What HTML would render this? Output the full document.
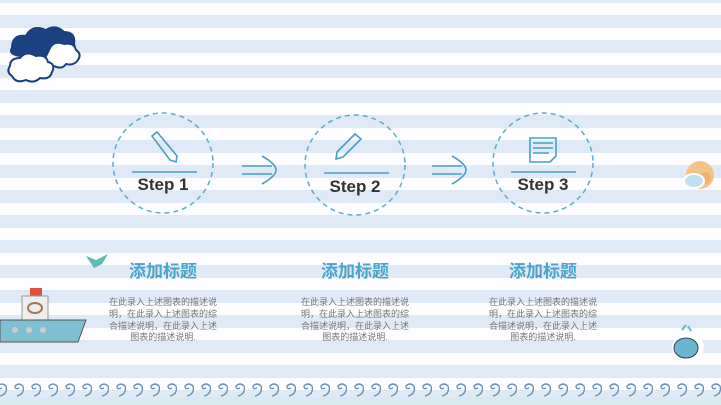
<!DOCTYPE html><html><head><meta charset="utf-8"><style>
body{margin:0}
#p{position:relative;width:721px;height:405px;overflow:hidden;background:repeating-linear-gradient(180deg,#dfeaf6 0 3px,#fdfcfe 3px 15px,#dfeaf6 15px 25px);font-family:"Liberation Sans","Noto Sans CJK SC",sans-serif}
.st{position:absolute;width:120px;text-align:center;font-weight:bold;font-size:17px;color:#333}
.tt{position:absolute;width:140px;text-align:center;font-weight:bold;font-size:17px;color:#4aa3c8}
.ds{position:absolute;width:112px;text-align:center;font-size:9px;line-height:11.8px;color:#777}
</style></head><body><div id="p">
<svg width="721" height="405" style="position:absolute;left:0;top:0">
<g fill="none" stroke="#5aaccf" stroke-width="1.5" stroke-dasharray="5,4">
<circle cx="163" cy="163" r="50"/><circle cx="355" cy="165" r="50"/><circle cx="543" cy="163" r="50"/></g>
<g stroke="#4a9ec6" stroke-width="1.6" fill="none">
<line x1="132" y1="172" x2="197" y2="172"/><line x1="324" y1="173" x2="389" y2="173"/><line x1="511" y1="172" x2="576" y2="172"/>
<path d="M242 166h30M242 174h30M262 156q14 8 14 14q0 6-14 14"/>
<path d="M432 166h30M432 174h30M452 156q14 8 14 14q0 6-14 14"/>
<path d="M152 136l5-4 20 24-1 6-6-2z"/>
<path d="M337 152l18-18 6 5-18 18-7 2z"/>
<path d="M530 138h26v18l-6 6h-20z M533 143h20M533 148h20M533 153h16"/>
</g>
<g stroke="#1b3f7e" stroke-width="2">
<path d="M12 48q0-14 14-12q6-12 20-6q10-6 18 2q12 0 10 12q4 10-8 12h-46q-12-2-8-8z" fill="#1d4282"/>
<path d="M50 48q4-8 14-4q10-2 12 6q6 4 2 10q-4 6-12 4q-4 6-12 2q-8 2-10-6z" fill="#fff"/>
<path d="M10 66q0-8 10-8q6-8 16-2q10-2 12 6q8 2 4 10q-2 8-12 6q-6 6-14 2q-10 4-14-4q-6-4-2-10z" fill="#fff"/>
</g>
<path d="M86 256l10 4 12-6-6 10-8 4z" fill="#5bbcb3"/>
<g>
<rect x="30" y="288" width="12" height="8" fill="#e05040"/><rect x="22" y="296" width="26" height="24" fill="#eee" stroke="#999"/>
<ellipse cx="35" cy="308" rx="7" ry="5" fill="none" stroke="#a0785a" stroke-width="2"/>
<path d="M0 320h86l-8 22h-78z" fill="#7fbfd2" stroke="#555"/>
<circle cx="15" cy="330" r="3" fill="#ccc"/><circle cx="29" cy="330" r="3" fill="#ccc"/><circle cx="43" cy="330" r="3" fill="#ccc"/>
</g>
<g><circle cx="700" cy="175" r="14" fill="#f5c38a"/><circle cx="705" cy="178" r="6" fill="#f2b070"/>
<ellipse cx="694" cy="181" rx="10" ry="7" fill="#bfe0ee" stroke="#fff" stroke-width="2"/></g>
<g><ellipse cx="688" cy="347" rx="16" ry="13" fill="#fff"/><ellipse cx="686" cy="348" rx="12" ry="10" fill="#6ab5cf" stroke="#345" stroke-width="1"/>
<path d="M682 330l4-5M688 326l3 5" stroke="#6ab5cf" stroke-width="2"/></g>
<rect x="0" y="397" width="721" height="8" fill="#d7ebee"/>
<g fill="none" stroke="#6a8fb5" stroke-width="1.3">
<path d="M0 396 q8-2 6-10 q-4-4-8 0 q0 4 4 2 M17 396 q8-2 6-10 q-4-4-8 0 q0 4 4 2 M34 396 q8-2 6-10 q-4-4-8 0 q0 4 4 2 M51 396 q8-2 6-10 q-4-4-8 0 q0 4 4 2 M68 396 q8-2 6-10 q-4-4-8 0 q0 4 4 2 M85 396 q8-2 6-10 q-4-4-8 0 q0 4 4 2 M102 396 q8-2 6-10 q-4-4-8 0 q0 4 4 2 M119 396 q8-2 6-10 q-4-4-8 0 q0 4 4 2 M136 396 q8-2 6-10 q-4-4-8 0 q0 4 4 2 M153 396 q8-2 6-10 q-4-4-8 0 q0 4 4 2 M170 396 q8-2 6-10 q-4-4-8 0 q0 4 4 2 M187 396 q8-2 6-10 q-4-4-8 0 q0 4 4 2 M204 396 q8-2 6-10 q-4-4-8 0 q0 4 4 2 M221 396 q8-2 6-10 q-4-4-8 0 q0 4 4 2 M238 396 q8-2 6-10 q-4-4-8 0 q0 4 4 2 M255 396 q8-2 6-10 q-4-4-8 0 q0 4 4 2 M272 396 q8-2 6-10 q-4-4-8 0 q0 4 4 2 M289 396 q8-2 6-10 q-4-4-8 0 q0 4 4 2 M306 396 q8-2 6-10 q-4-4-8 0 q0 4 4 2 M323 396 q8-2 6-10 q-4-4-8 0 q0 4 4 2 M340 396 q8-2 6-10 q-4-4-8 0 q0 4 4 2 M357 396 q8-2 6-10 q-4-4-8 0 q0 4 4 2 M374 396 q8-2 6-10 q-4-4-8 0 q0 4 4 2 M391 396 q8-2 6-10 q-4-4-8 0 q0 4 4 2 M408 396 q8-2 6-10 q-4-4-8 0 q0 4 4 2 M425 396 q8-2 6-10 q-4-4-8 0 q0 4 4 2 M442 396 q8-2 6-10 q-4-4-8 0 q0 4 4 2 M459 396 q8-2 6-10 q-4-4-8 0 q0 4 4 2 M476 396 q8-2 6-10 q-4-4-8 0 q0 4 4 2 M493 396 q8-2 6-10 q-4-4-8 0 q0 4 4 2 M510 396 q8-2 6-10 q-4-4-8 0 q0 4 4 2 M527 396 q8-2 6-10 q-4-4-8 0 q0 4 4 2 M544 396 q8-2 6-10 q-4-4-8 0 q0 4 4 2 M561 396 q8-2 6-10 q-4-4-8 0 q0 4 4 2 M578 396 q8-2 6-10 q-4-4-8 0 q0 4 4 2 M595 396 q8-2 6-10 q-4-4-8 0 q0 4 4 2 M612 396 q8-2 6-10 q-4-4-8 0 q0 4 4 2 M629 396 q8-2 6-10 q-4-4-8 0 q0 4 4 2 M646 396 q8-2 6-10 q-4-4-8 0 q0 4 4 2 M663 396 q8-2 6-10 q-4-4-8 0 q0 4 4 2 M680 396 q8-2 6-10 q-4-4-8 0 q0 4 4 2 M697 396 q8-2 6-10 q-4-4-8 0 q0 4 4 2 M714 396 q8-2 6-10 q-4-4-8 0 q0 4 4 2"/>
</g>
</svg>
<div class="st" style="left:103px;top:175px">Step 1</div>
<div class="st" style="left:295px;top:177px">Step 2</div>
<div class="st" style="left:483px;top:175px">Step 3</div>
<div class="tt" style="left:93px;top:257px">添加标题</div>
<div class="tt" style="left:285px;top:257px">添加标题</div>
<div class="tt" style="left:473px;top:257px">添加标题</div>
<div class="ds" style="left:107px;top:297px">在此录入上述图表的描述说明，在此录入上述图表的综合描述说明，在此录入上述图表的描述说明.</div>
<div class="ds" style="left:299px;top:297px">在此录入上述图表的描述说明，在此录入上述图表的综合描述说明，在此录入上述图表的描述说明.</div>
<div class="ds" style="left:487px;top:297px">在此录入上述图表的描述说明，在此录入上述图表的综合描述说明，在此录入上述图表的描述说明.</div>
</div></body></html>
